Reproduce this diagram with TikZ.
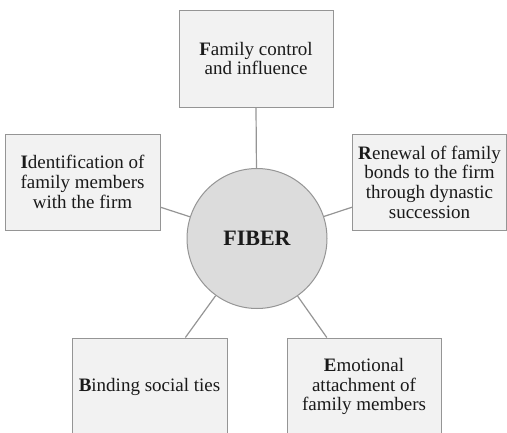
\documentclass[tikz,border=0pt]{standalone}
\usepackage{fontspec}
\setmainfont{Liberation Serif}
\usetikzlibrary{calc}
\definecolor{boxfill}{HTML}{F2F2F2}
\definecolor{boxline}{HTML}{959595}
\definecolor{circfill}{HTML}{DCDCDC}
\definecolor{txt}{HTML}{1A1A1A}
\begin{document}
\begin{tikzpicture}[x=1pt,y=-1pt,
  fbox/.style={draw=boxline,fill=boxfill,line width=1pt,minimum width=155pt,minimum height=97pt,inner sep=0pt,align=center,text=txt,font=\fontsize{19}{19.7}\selectfont},
  hub/.style={circle,draw=boxline,fill=circfill,line width=1pt,minimum size=140pt,inner sep=0pt,text=txt,font=\fontsize{22}{24}\selectfont\bfseries},
  link/.style={draw=boxline,line width=1.2pt}]
\useasboundingbox (0,0) rectangle (507,432);
\clip (0,0) rectangle (507,432);
\node[hub] (c) at (257,238.5) {FIBER};
\node[fbox,minimum width=154pt] (T) at (256,58.5) {\textbf{F}amily control\\and influence};
\node[fbox,minimum height=96pt] (L) at (82.5,182) {\textbf{I}dentification of\\family members\\with the firm};
\node[fbox,minimum width=154pt,minimum height=96pt] (R) at (429.5,182) {\textbf{R}enewal of family\\bonds to the firm\\through dynastic\\succession};
\node[fbox] (BL) at (149.5,386.5) {\textbf{B}inding social ties};
\node[fbox,minimum width=154pt] (BR) at (364,386.5) {\textbf{E}motional\\attachment of\\family members};
\coordinate (aT) at (T.south);
\coordinate (aL) at ($(L.north east)!0.76!(L.south east)$);
\coordinate (aR) at ($(R.north west)!0.76!(R.south west)$);
\coordinate (aBL) at ($(BL.north west)!0.73!(BL.north east)$);
\coordinate (aBR) at ($(BR.north west)!0.26!(BR.north east)$);
\draw[link] (aT) -- (c);
\draw[link] (aL) -- (c);
\draw[link] (aR) -- (c);
\draw[link] (aBL) -- (c);
\draw[link] (aBR) -- (c);
\end{tikzpicture}
\end{document}
